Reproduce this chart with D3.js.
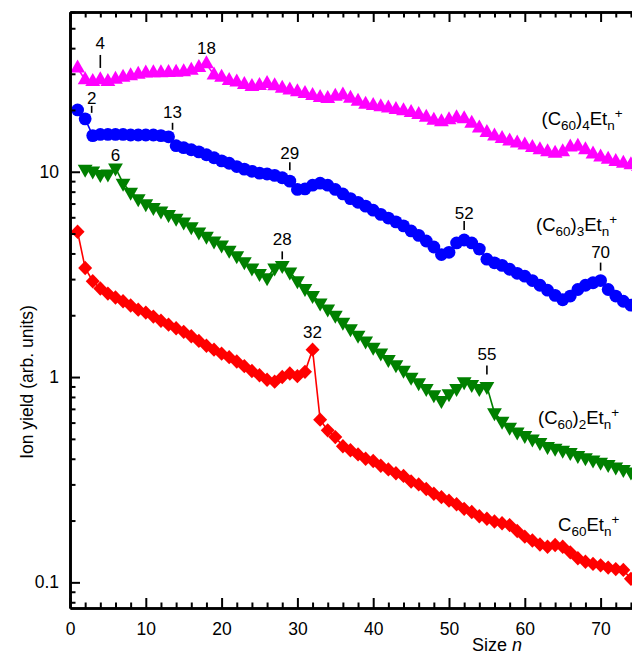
<!DOCTYPE html>
<html>
<head>
<meta charset="utf-8">
<script src="https://cdn.jsdelivr.net/npm/d3@7"></script>
<style>
  html, body { margin: 0; padding: 0; background: #fff; overflow: hidden; }
  svg { display: block; font-family: "Liberation Sans", Arial, Helvetica, sans-serif; }
</style>
</head>
<body>
<svg id="chart" width="632" height="651"></svg>
<script>
// ion yields, one value per cluster size n
// C60Etn+ (n = 1 ... 75)
const c60Et = [
  5.1, 3.4, 2.93, 2.7, 2.55, 2.44, 2.34, 2.23, 2.13, 2.06,
  1.97, 1.88, 1.8, 1.73, 1.66, 1.58, 1.5, 1.42, 1.36, 1.3,
  1.25, 1.19, 1.13, 1.07, 1.02, 0.97, 0.95, 1.0, 1.04, 1.01,
  1.06, 1.36, 0.62, 0.55, 0.51, 0.46, 0.44, 0.42, 0.40, 0.39,
  0.37, 0.355, 0.34, 0.33, 0.31, 0.30, 0.285, 0.27, 0.26, 0.25,
  0.24, 0.228, 0.22, 0.21, 0.204, 0.198, 0.194, 0.19, 0.178, 0.167,
  0.16, 0.153, 0.149, 0.152, 0.149, 0.14, 0.131, 0.126, 0.123, 0.121,
  0.118, 0.116, 0.115, 0.104, 0.1
];
// (C60)2Etn+ (n = 2 ... 75)
const c60x2Et = [
  10.3, 10.1, 9.7, 9.75, 10.45, 8.8, 7.95, 7.4, 7.0,
  6.7, 6.45, 6.2, 5.95, 5.7, 5.4, 5.1, 4.85, 4.6, 4.4,
  4.15, 3.9, 3.65, 3.4, 3.2, 3.05, 3.4, 3.5, 3.25, 2.95,
  2.7, 2.5, 2.3, 2.15, 2.0, 1.85, 1.72, 1.6, 1.5, 1.4,
  1.31, 1.22, 1.15, 1.08, 1.0, 0.94, 0.88, 0.82, 0.77, 0.83,
  0.88, 0.95, 0.92, 0.88, 0.9, 0.67, 0.61, 0.57, 0.54, 0.52,
  0.5, 0.48, 0.46, 0.45, 0.44, 0.43, 0.415, 0.405, 0.395, 0.385,
  0.375, 0.365, 0.355, 0.345, 0.34
];
// (C60)3Etn+ (n = 1 ... 75)
const c60x3Et = [
  20.0, 18.1, 15.0, 15.2, 15.2, 15.2, 15.2, 15.1, 15.1, 15.1,
  15.1, 15.0, 14.8, 13.4, 13.1, 12.8, 12.5, 12.1, 11.7, 11.3,
  11.0, 10.6, 10.3, 10.05, 9.85, 9.75, 9.6, 9.35, 9.0, 8.2,
  8.25, 8.6, 8.8, 8.6, 8.2, 7.8, 7.4, 7.1, 6.8, 6.5,
  6.2, 5.95, 5.7, 5.45, 5.15, 4.9, 4.6, 4.3, 3.95, 4.05,
  4.5, 4.65, 4.5, 4.2, 3.75, 3.6, 3.5, 3.35, 3.2, 3.1,
  2.95, 2.8, 2.65, 2.5, 2.38, 2.48, 2.67, 2.8, 2.88, 2.95,
  2.67, 2.48, 2.34, 2.24, 2.15
];
// (C60)4Etn+ (n = 1 ... 75)
const c60x4Et = [
  32, 28, 27.5, 28, 27.5, 28.2, 28.8, 29.3, 29.8, 30.2,
  30.3, 30.3, 30.4, 30.5, 30.7, 31.2, 32.2, 33.5, 29.6, 28.8,
  27.8, 27.3, 26.6, 26.0, 26.3, 26.9, 26.2, 25.5, 25.0, 24.5,
  24.0, 23.5, 23.0, 22.7, 23.3, 23.6, 22.8, 22.0, 21.3, 21.0,
  20.7, 20.4, 20.1, 19.8, 19.4, 19.0, 18.4, 17.8, 17.5, 17.9,
  18.3, 18.1, 17.2, 16.3, 15.5, 14.9, 14.5, 14.1, 13.8, 13.5,
  13.1, 12.8, 12.5, 12.3, 12.5, 13.2, 13.3, 12.8, 12.2, 11.8,
  11.5, 11.2, 11.0, 10.8, 10.6
];

const xTicks = [0, 10, 20, 30, 40, 50, 60, 70];
const yTicks = [0.1, 1, 10];
const yTickLabels = ['0.1', '1', '10'];

// annotated sizes
const annLabels = ['4', '18', '2', '13', '29', '52', '70', '6', '28', '55', '32'];
const annSizes  = [4, 18, 2, 13, 29, 52, 70, 6, 28, 55, 32];
const annSeries = ['c4', 'c4', 'c3', 'c3', 'c3', 'c3', 'c3', 'c2', 'c2', 'c2', 'c1'];

// layout (pixel offsets from the annotated point)
const annLayout = {
  '4':  { dx: 0,   tick: [-25, -12], text: -31 },
  '18': { dx: 0,   tick: null,       text: -10 },
  '2':  { dx: 6.5, tick: [-13, -6],  text: -15 },
  '13': { dx: 4,   tick: [-14, -7],  text: -19 },
  '29': { dx: 0,   tick: [-19, -11], text: -22 },
  '52': { dx: 0,   tick: [-19, -10], text: -21 },
  '70': { dx: 0,   tick: [-18, -10], text: -23 },
  '6':  { dx: 0,   tick: null,       text: -7 },
  '28': { dx: 0,   tick: [-14, -6],  text: -20 },
  '55': { dx: 0,   tick: [-21, -12], text: -26 },
  '32': { dx: 0,   tick: null,       text: -12 }
};

const series = [
  { key: 'c4', values: c60x4Et, n0: 1, color: '#ff00ff', marker: 'up' },
  { key: 'c3', values: c60x3Et, n0: 1, color: '#0000ff', marker: 'circle' },
  { key: 'c2', values: c60x2Et, n0: 2, color: '#008000', marker: 'down' },
  { key: 'c1', values: c60Et,   n0: 1, color: '#ff0000', marker: 'diamond' }
];

const svg = d3.select('#chart');
const margin = { left: 70, top: 12 };
const plotW = 606.4, plotH = 596;

const x = d3.scaleLinear().domain([0, 80]).range([margin.left, margin.left + plotW]);
const y = d3.scaleLog().domain([0.075, 60]).range([margin.top + plotH, margin.top]);

svg.append('defs').append('clipPath').attr('id', 'plot-clip')
  .append('rect')
  .attr('x', margin.left).attr('y', margin.top)
  .attr('width', plotW).attr('height', plotH);

const markerPath = {
  up: 'M0,-8.6L7.4,4.4L-7.4,4.4Z',
  down: 'M0,8.6L7.4,-4.4L-7.4,-4.4Z',
  diamond: 'M0,-7.2L7,0L0,7.2L-7,0Z'
};

const plot = svg.append('g').attr('clip-path', 'url(#plot-clip)');

series.forEach(s => {
  const pts = s.values.map((v, i) => ({ n: s.n0 + i, v }));
  const line = d3.line().x(d => x(d.n)).y(d => y(d.v));

  plot.append('path')
    .datum(pts)
    .attr('fill', 'none')
    .attr('stroke', s.color)
    .attr('stroke-width', 1.6)
    .attr('d', line);

  const g = plot.append('g');
  if (s.marker === 'circle') {
    g.selectAll('circle').data(pts).enter().append('circle')
      .attr('cx', d => x(d.n))
      .attr('cy', d => y(d.v))
      .attr('r', 6.4)
      .attr('fill', s.color);
  } else {
    g.selectAll('path').data(pts).enter().append('path')
      .attr('transform', d => `translate(${x(d.n)},${y(d.v)})`)
      .attr('d', markerPath[s.marker])
      .attr('fill', s.color);
  }
});

// annotations
const seriesByKey = {};
series.forEach(s => { seriesByKey[s.key] = s; });

annLabels.forEach((label, i) => {
  const s = seriesByKey[annSeries[i]];
  const n = annSizes[i];
  const v = s.values[n - s.n0];
  const lay = annLayout[label];
  const px = x(n) + lay.dx;
  const py = y(v);
  if (lay.tick) {
    svg.append('line')
      .attr('x1', px).attr('x2', px)
      .attr('y1', py + lay.tick[0]).attr('y2', py + lay.tick[1])
      .attr('stroke', '#000')
      .attr('stroke-width', 1.6);
  }
  svg.append('text')
    .attr('x', px)
    .attr('y', py + lay.text)
    .attr('text-anchor', 'middle')
    .attr('font-size', 17)
    .attr('fill', '#000')
    .text(label);
});

// axes
const xMinor = d3.range(0, 81, 2).filter(d => d % 10 !== 0);
const yMinor = [];
[0.01, 0.1, 1, 10].forEach(dec => {
  for (let k = 2; k <= 9; k++) {
    const t = dec * k;
    if (t >= 0.075 && t <= 60) yMinor.push(t);
  }
});

function styleAxis(g) {
  g.select('.domain').attr('stroke-width', 2.6).attr('stroke', '#000');
  g.selectAll('.tick line').attr('stroke-width', 2).attr('stroke', '#000');
  g.selectAll('.tick text')
    .attr('font-size', 17.5)
    .attr('fill', '#000')
    .attr('font-family', '"Liberation Sans", Arial, Helvetica, sans-serif');
}

// bottom
svg.append('g')
  .attr('transform', `translate(0,${margin.top + plotH})`)
  .call(d3.axisBottom(x).tickValues(xMinor).tickSize(-5.5).tickSizeOuter(0).tickFormat(''))
  .call(styleAxis);
svg.append('g')
  .attr('transform', `translate(0,${margin.top + plotH})`)
  .call(d3.axisBottom(x).tickValues(xTicks).tickSize(-10).tickSizeOuter(0).tickPadding(15)
    .tickFormat(d3.format('d')))
  .call(styleAxis);

// top
svg.append('g')
  .attr('transform', `translate(0,${margin.top})`)
  .call(d3.axisTop(x).tickValues(xMinor).tickSize(-5.5).tickSizeOuter(0).tickFormat(''))
  .call(styleAxis);
svg.append('g')
  .attr('transform', `translate(0,${margin.top})`)
  .call(d3.axisTop(x).tickValues(xTicks).tickSize(-10).tickSizeOuter(0).tickFormat(''))
  .call(styleAxis);

// left
svg.append('g')
  .attr('transform', `translate(${margin.left},0)`)
  .call(d3.axisLeft(y).tickValues(yMinor).tickSize(-5.5).tickSizeOuter(0).tickFormat(''))
  .call(styleAxis);
svg.append('g')
  .attr('transform', `translate(${margin.left},0)`)
  .call(d3.axisLeft(y).tickValues(yTicks).tickSize(-10).tickSizeOuter(0).tickPadding(11)
    .tickFormat((d, i) => yTickLabels[i]))
  .call(styleAxis);

// axis titles
svg.append('text')
  .attr('transform', 'translate(33,382) rotate(-90)')
  .attr('text-anchor', 'middle')
  .attr('font-size', 17.5)
  .text('Ion yield (arb. units)');

svg.append('text')
  .attr('x', 472)
  .attr('y', 651)
  .attr('font-size', 18)
  .html('Size <tspan font-style="italic">n</tspan>');

// series labels
const seriesLabels = [
  { x: 541.5, y: 125, sub1: '60', sub2: '4', paren: true },
  { x: 536, y: 231, sub1: '60', sub2: '3', paren: true },
  { x: 538, y: 424, sub1: '60', sub2: '2', paren: true },
  { x: 558, y: 531, sub1: '60', sub2: '', paren: false }
];

seriesLabels.forEach(l => {
  const t = svg.append('text').attr('x', l.x).attr('y', l.y).attr('font-size', 18.5);
  t.append('tspan').text(l.paren ? '(C' : 'C');
  t.append('tspan').attr('font-size', 13.5).attr('dy', 5).text(l.sub1);
  if (l.paren) {
    t.append('tspan').attr('dy', -5).text(')');
    t.append('tspan').attr('font-size', 13.5).attr('dy', 5).text(l.sub2);
    t.append('tspan').attr('dy', -5).text('Et');
  } else {
    t.append('tspan').attr('dy', -5).text('Et');
  }
  t.append('tspan').attr('font-size', 13.5).attr('dy', 5).text('n');
  t.append('tspan').attr('font-size', 13.5).attr('dy', -12).text('+');
});
</script>
</body>
</html>
